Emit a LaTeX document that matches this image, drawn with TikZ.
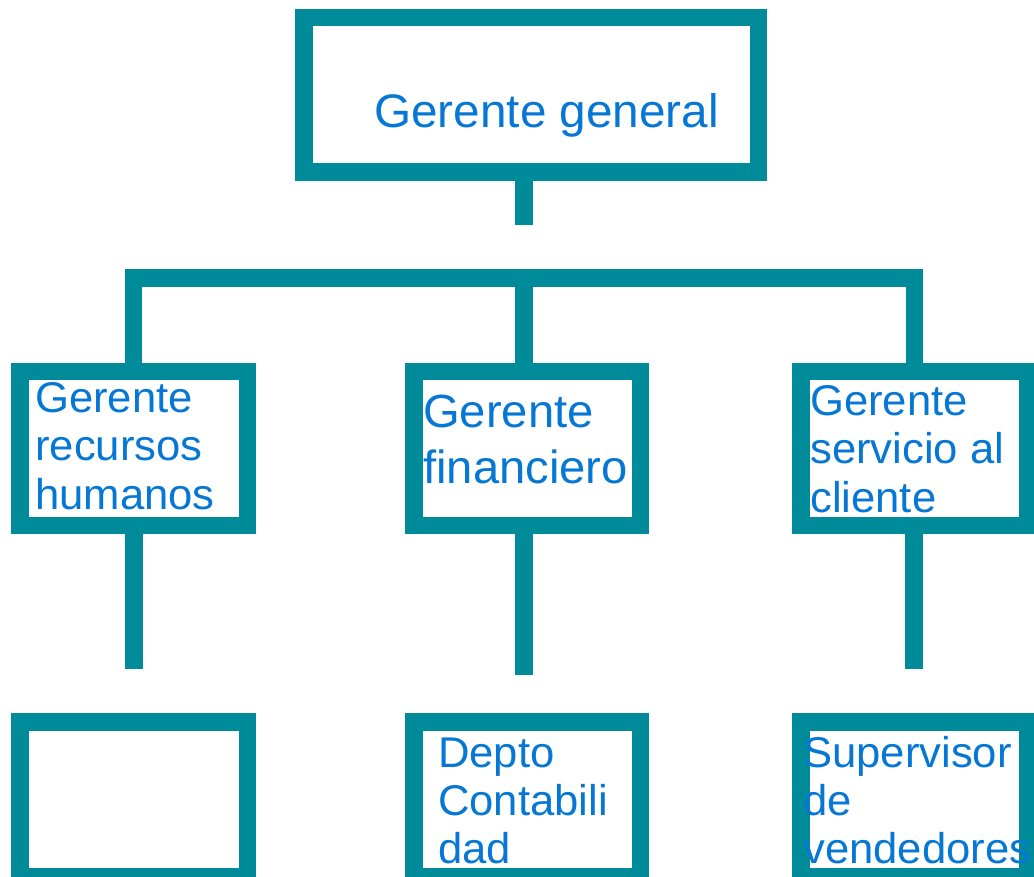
\documentclass[tikz,border=0pt]{standalone}
\usepackage{fontspec}
\setmainfont{Liberation Sans}[FakeStretch=1.015]
\definecolor{teal}{RGB}{0,139,154}
\definecolor{txtblue}{RGB}{6,119,212}
\newcommand\mlines[1]{\vtop{\halign{##\hfil\cr#1\crcr}}}
\tikzset{
  box/.style={draw=teal, line width=17.5pt, fill=white, inner sep=0pt, rectangle},
  conn/.style={draw=teal, line width=17.5pt, line cap=butt, line join=miter},
  lbl/.style={text=txtblue, inner sep=0pt, anchor=base west},
}
\begin{document}
\begin{tikzpicture}[x=1pt,y=-1pt]
\useasboundingbox (0,0) rectangle (1034,877);
% boxes
\node[box, minimum width=454.5pt, minimum height=154.5pt] (gg) at (531,95) {};
\node[box, minimum width=227.5pt, minimum height=153.5pt] (rh) at (133.5,448.5) {};
\node[box, minimum width=226.5pt, minimum height=153.5pt] (fin) at (527,448.5) {};
\node[box, minimum width=227pt, minimum height=153.5pt] (sc) at (914.25,448.5) {};
\node[box, minimum width=227.5pt, minimum height=155pt] (b1) at (133.5,799.5) {};
\node[box, minimum width=226.5pt, minimum height=155pt] (b2) at (527,799.5) {};
\node[box, minimum width=227pt, minimum height=155pt] (b3) at (914.25,799.5) {};
% connector coordinates
\coordinate (g1) at (524,225);
\coordinate (bar) at (524,278);
\coordinate (e1) at (134,669);
\coordinate (e2) at (524,675);
\coordinate (e3) at (914,669);
% connectors
\draw[conn] (g1 |- gg.south) -- (g1);
\draw[conn] (rh.north) -- (rh.north |- bar) -- (sc.north |- bar) -- (sc.north);
\draw[conn] (bar) -- (bar |- fin.north);
\draw[conn] (e1 |- rh.south) -- (e1);
\draw[conn] (e2 |- fin.south) -- (e2);
\draw[conn] (e3 |- sc.south) -- (e3);
% texts
\node[lbl, font=\fontsize{47}{54}\selectfont] (gg-t) at (374,128) {Gerente general};
\node[lbl, font=\fontsize{43}{48.5}\selectfont] (rh-t) at (35,412) {\mlines{Gerente\cr recursos\cr humanos}};
\node[lbl, font=\fontsize{46.5}{56}\selectfont] (fin-t) at (423,427) {\mlines{Gerente\cr financiero}};
\node[lbl, font=\fontsize{43}{48.5}\selectfont] (sc-t) at (810,415) {\mlines{Gerente\cr servicio al\cr cliente}};
\node[lbl, font=\fontsize{43}{48}\selectfont] (b2-t) at (438,767) {\mlines{Depto\cr Contabili\cr dad}};
\node[lbl, font=\fontsize{43}{48}\selectfont] (b3-t) at (803,767) {\mlines{Supervisor\cr de\cr vendedores}};
\end{tikzpicture}
\end{document}
